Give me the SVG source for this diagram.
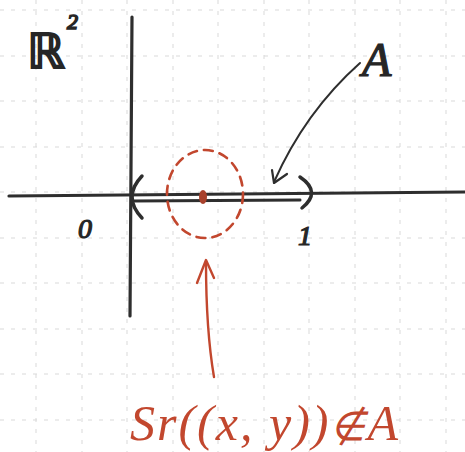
<svg xmlns="http://www.w3.org/2000/svg" width="465" height="452" viewBox="0 0 465 452">
  <defs>
    <style>
      .grid line { stroke: #d9d9d9; stroke-width: 1; stroke-dasharray: 4 7; }
      .ink { fill: none; stroke: #2e2e2e; stroke-linecap: round; stroke-linejoin: round; }
      .red { fill: none; stroke: #c2472e; stroke-linecap: round; stroke-linejoin: round; }
      .lbl { fill: #262626; stroke: #262626; stroke-width: 1.2; font-family: "Liberation Serif", serif; font-style: italic; }
      .rtxt { fill: #c2472e; font-family: "Liberation Serif", serif; font-style: italic; }
    </style>
  </defs>
  <rect width="465" height="452" fill="#ffffff"/>
  <g id="grid" class="grid">
    <line x1="36" y1="0" x2="36" y2="452"/>
    <line x1="82" y1="0" x2="82" y2="452"/>
    <line x1="127" y1="0" x2="127" y2="452"/>
    <line x1="173" y1="0" x2="173" y2="452"/>
    <line x1="218" y1="0" x2="218" y2="452"/>
    <line x1="264" y1="0" x2="264" y2="452"/>
    <line x1="309" y1="0" x2="309" y2="452"/>
    <line x1="355" y1="0" x2="355" y2="452"/>
    <line x1="400" y1="0" x2="400" y2="452"/>
    <line x1="446" y1="0" x2="446" y2="452"/>
    <line x1="0" y1="10" x2="465" y2="10"/>
    <line x1="0" y1="56" x2="465" y2="56"/>
    <line x1="0" y1="101" x2="465" y2="101"/>
    <line x1="0" y1="147" x2="465" y2="147"/>
    <line x1="0" y1="192" x2="465" y2="192"/>
    <line x1="0" y1="238" x2="465" y2="238"/>
    <line x1="0" y1="283" x2="465" y2="283"/>
    <line x1="0" y1="329" x2="465" y2="329"/>
    <line x1="0" y1="374" x2="465" y2="374"/>
    <line x1="0" y1="420" x2="465" y2="420"/>
  </g>
  <g id="axes">
    <path class="ink" d="M9,196 Q200,195 465,192" stroke-width="3.2"/>
    <path class="ink" d="M132,17 Q131,170 130,316" stroke-width="3.2"/>
    <text class="lbl" x="27" y="68" font-size="48" style="font-family:'DejaVu Sans',sans-serif;font-style:italic;stroke-width:2">ℝ</text>
    <text class="lbl" x="67" y="29" font-size="22" style="stroke-width:1.6">2</text>
    <text class="lbl" x="78" y="238" font-size="28">0</text>
    <text class="lbl" x="298" y="245" font-size="28">1</text>
  </g>
  <g id="interval-A">
    <path class="ink" d="M132,201 L300,200" stroke-width="3" stroke="#4a4a4a"/>
    <path class="ink" d="M142,176 Q122,197 142,218" stroke-width="3.5"/>
    <path class="ink" d="M300,177 Q322,192 302,208" stroke-width="3.5"/>
    <text class="lbl" x="362" y="76" font-size="48">A</text>
  </g>
  <g id="neighbourhood">
    <ellipse class="red" cx="205" cy="194" rx="38" ry="44" stroke-width="2.6" stroke-dasharray="9 7"/>
    <ellipse cx="203" cy="197" rx="4" ry="7" fill="#a8412c"/>
  </g>
  <g id="label-ball">
    <text class="rtxt" x="130" y="440" font-size="50" textLength="268" lengthAdjust="spacing">Sr((x, y))<tspan font-size="40">∉</tspan>A</text>
  </g>
  <g id="connectors">
    <path class="ink" d="M360,63 Q305,112 274,182" stroke-width="2" stroke="#555"/>
    <path class="ink" d="M272,170 L274,183 L287,174" stroke-width="2.2" stroke="#555"/>
    <path class="red" d="M214,377 Q206,330 206,262" stroke-width="2.4"/>
    <path class="red" d="M197,283 L206,260 L214,278" stroke-width="2.4"/>
  </g>
</svg>
